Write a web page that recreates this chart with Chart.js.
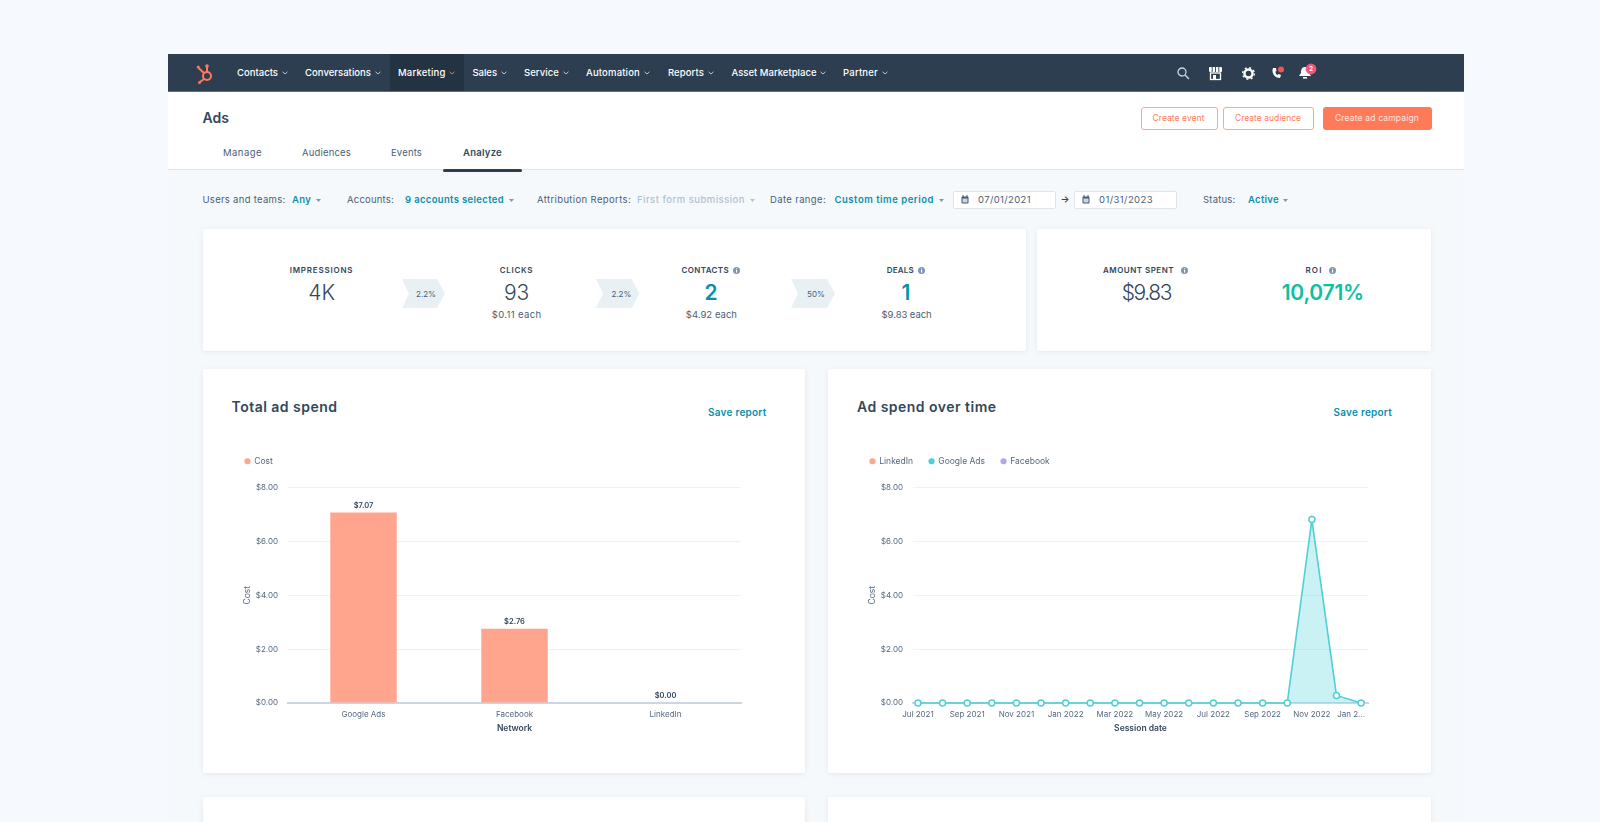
<!DOCTYPE html>
<html>
<head>
<meta charset="utf-8">
<title>Ads</title>
<script src="https://cdn.jsdelivr.net/npm/chart.js@4/dist/chart.umd.min.js"></script>
<style>
html, body { margin: 0; width: 1600px; height: 822px; overflow: hidden; background: #f6f9fe; font-family: Inter, "Noto Sans", sans-serif; color: #33475b; }
.box { position: absolute; box-sizing: border-box; }
.card { background: #fff; box-shadow: 0 1px 5px rgba(45,62,80,.10); border-radius: 2px; }
.txt { position: absolute; white-space: nowrap; line-height: 1; }
canvas { position: absolute; }
svg { position: absolute; overflow: visible; }
</style>
</head>
<body>
<div class="box" style="left:168px;top:54px;width:1296px;height:768px;background:#f6f9fc"></div>
<div class="box" style="left:168px;top:54px;width:1296px;height:38px;background:#2d3e50;border-bottom:1px solid #516f90"></div>
<div class="box" style="left:390px;top:54px;width:74px;height:37px;background:#243342"></div>
<div class="box" style="left:168px;top:92px;width:1296px;height:78px;background:#fff;border-bottom:1px solid #dfe3eb"></div>
<div class="box" style="left:443px;top:169px;width:79px;height:3px;background:#2d3e50;border-radius:2px"></div>

<div class="box card" style="left:202.5px;top:229px;width:823.5px;height:122px"></div>
<div class="box card" style="left:1037px;top:229px;width:394px;height:122px"></div>
<div class="box card" style="left:203px;top:369px;width:602px;height:404px"></div>
<div class="box card" style="left:828px;top:369px;width:603px;height:404px"></div>
<div class="box card" style="left:203px;top:797px;width:602px;height:40px"></div>
<div class="box card" style="left:828px;top:797px;width:603px;height:40px"></div>

<div class="box" style="left:953px;top:191px;width:103px;height:18px;background:#fff;border:1px solid #dfe3eb;border-radius:2px"></div>
<div class="box" style="left:1074px;top:191px;width:103px;height:18px;background:#fff;border:1px solid #dfe3eb;border-radius:2px"></div>
<div class="box" style="left:1140.5px;top:107px;width:77px;height:23px;background:#fff;border:1px solid #ffa48d;border-radius:3px"></div>
<div class="box" style="left:1222.5px;top:107px;width:91px;height:23px;background:#fff;border:1px solid #ffa48d;border-radius:3px"></div>
<div class="box" style="left:1322.5px;top:107px;width:109px;height:23px;background:#ff7a59;border-radius:3px"></div>

<canvas id="spendChart" width="528" height="307" style="left:229px;top:441px"></canvas>
<canvas id="timeChart" width="530" height="307" style="left:854px;top:441px"></canvas>

<script>
// chart values
const networks = ["Google Ads", "Facebook", "LinkedIn"];
const networkCost = [7.07, 2.76, 0.00];
const costTicks = [0, 2, 4, 6, 8];

const months = ["Jul 2021", "Aug 2021", "Sep 2021", "Oct 2021", "Nov 2021", "Dec 2021", "Jan 2022", "Feb 2022", "Mar 2022", "Apr 2022",
    "May 2022", "Jun 2022", "Jul 2022", "Aug 2022", "Sep 2022", "Oct 2022", "Nov 2022", "Dec 2022", "Jan 2023"];
const monthTicks = ["Jul 2021", "Sep 2021", "Nov 2021", "Jan 2022", "Mar 2022", "May 2022", "Jul 2022", "Sep 2022", "Nov 2022", "Jan 2..."];
const linkedInCost = [0, 0, 0, 0, 0, 0, 0, 0, 0, 0, 0, 0, 0, 0, 0, 0, 0, 0, 0];
const googleCost = [0, 0, 0, 0, 0, 0, 0, 0, 0, 0, 0, 0, 0, 0, 0, 0, 6.81, 0.28, 0];
const facebookCost = [0, 0, 0, 0, 0, 0, 0, 0, 0, 0, 0, 0, 0, 0, 0, 0, 0, 0, 0];

const SALMON = "#ffa58d";
const TEAL = "#4fd0d6";
const PURPLE = "#b3a6e6";
const LINK = "#0b8fab";
const INK = "#33475b";
const MUTED = "#4a5f75";
const AXIS = "#55697d";

// page text, x1 given means stretch the text to end there
function put(text, x0, x1, y, size, color, weight) {
    const el = document.createElement("div");
    el.className = "txt";
    el.textContent = text;
    el.style.fontSize = size + "px";
    el.style.color = color || INK;
    el.style.fontWeight = weight || 400;
    document.body.appendChild(el);
    const w = el.getBoundingClientRect().width;
    el.style.top = (y - el.getBoundingClientRect().height / 2) + "px";
    if (x1 === null) {
        el.style.left = (x0 - w / 2) + "px"; // x0 is the centre
    } else {
        el.style.left = x0 + "px";
        el.style.letterSpacing = ((x1 - x0 - w) / text.length) + "px";
    }
}

function icon(x, y, w, h, inner) {
    const ns = "http://www.w3.org/2000/svg";
    const s = document.createElementNS(ns, "svg");
    s.setAttribute("width", w);
    s.setAttribute("height", h);
    s.setAttribute("viewBox", "0 0 " + w + " " + h);
    s.style.left = x + "px";
    s.style.top = y + "px";
    s.innerHTML = inner;
    document.body.appendChild(s);
}

function chevron(cx, y, color) {
    icon(cx - 3, y - 2, 6, 4, '<polyline points="0.5,0.8 3,3 5.5,0.8" fill="none" stroke="' + color + '" stroke-width="0.9"/>');
}
function caret(cx, y, color) {
    icon(cx - 2.5, y - 1.5, 5, 3, '<polygon points="0,0 5,0 2.5,3" fill="' + color + '"/>');
}
function info(cx, y) {
    icon(cx - 3.5, y - 3.5, 7, 7, '<circle cx="3.5" cy="3.5" r="3.5" fill="#7c98b6"/><rect x="3" y="3" width="1.1" height="2.6" fill="#fff"/><rect x="3" y="1.4" width="1.1" height="1" fill="#fff"/>');
}
function arrowTag(x0, x1, y0, y1) {
    const w = x1 - x0, h = y1 - y0;
    icon(x0, y0, w, h, '<polygon points="0,0 ' + (w - 8) + ',0 ' + w + ',' + (h / 2) + ' ' + (w - 8) + ',' + h + ' 0,' + h + ' 7,' + (h / 2) + '" fill="#e9f0f4"/>');
}
function calendar(cx, y) {
    icon(cx - 4, y - 4.5, 8, 9, '<rect x="0.5" y="1.5" width="7" height="7" rx="1" fill="#425b76"/><rect x="1.5" y="3.5" width="5" height="4" fill="#cbd6e2"/><rect x="1.5" y="0" width="1" height="2" fill="#425b76"/><rect x="5.5" y="0" width="1" height="2" fill="#425b76"/>');
}

// nav bar
const navItems = [["Contacts", 237, 278, 285], ["Conversations", 305, 371, 378], ["Marketing", 398, 445.5, 452], ["Sales", 472.5, 497, 503.5],
    ["Service", 524, 559, 566], ["Automation", 586, 640, 646.5], ["Reports", 668, 704, 711], ["Asset Marketplace", 731.5, 816.5, 823], ["Partner", 843, 878, 885]];
navItems.forEach(function (n) {
    put(n[0], n[1], n[2], 73, 9.5, "#fff", 500);
    chevron(n[3], 73, n[0] === "Marketing" ? "#ff7a59" : "#cbd6e2");
});
icon(196, 62, 20, 22, '<g fill="none" stroke="#ff7a59" stroke-width="2"><circle cx="11" cy="14" r="4"/><line x1="11" y1="10" x2="11" y2="5"/><line x1="8" y1="11" x2="2.5" y2="6"/><line x1="8" y1="17" x2="4" y2="20"/></g><circle cx="11" cy="4" r="1.8" fill="#ff7a59"/><circle cx="2.2" cy="5" r="1.5" fill="#ff7a59"/><circle cx="3.5" cy="20.5" r="1.5" fill="#ff7a59"/>');
icon(1177, 67, 13, 13, '<circle cx="5" cy="5" r="4" fill="none" stroke="#cbd6e2" stroke-width="1.3"/><line x1="8" y1="8" x2="12" y2="12" stroke="#cbd6e2" stroke-width="1.5"/>');
icon(1209, 67, 13, 13, '<rect x="0" y="0" width="13" height="5" rx="1" fill="#fff"/><g stroke="#2d3e50" stroke-width="0.9"><line x1="3.2" y1="0" x2="3.2" y2="5"/><line x1="6.5" y1="0" x2="6.5" y2="5"/><line x1="9.8" y1="0" x2="9.8" y2="5"/></g><rect x="1.5" y="6" width="10" height="6.5" fill="none" stroke="#fff" stroke-width="1.3"/><rect x="4" y="8" width="3" height="4.5" fill="#fff"/>');
icon(1241.5, 67, 13, 13, '<circle cx="6.5" cy="6.5" r="4" fill="none" stroke="#fff" stroke-width="2.4"/><circle cx="6.5" cy="6.5" r="5.8" fill="none" stroke="#fff" stroke-width="1.4" stroke-dasharray="2 2.55"/>');
icon(1271, 66, 14, 14, '<path d="M2 2 C0 7 4 12 9 12 L10 9 L7.5 8 L6.5 9 C5 8.5 4.5 7 4.5 5.5 L5.5 5 L5 2 Z" fill="#fff"/><circle cx="10" cy="3.5" r="3" fill="#f2545b"/>');
icon(1298, 63, 20, 18, '<path d="M7 4 C3.5 4 3 7 3 10 L1 13 L13 13 L11 10 C11 7 10.5 4 7 4 Z" fill="#fff"/><rect x="5" y="14" width="4" height="1.6" fill="#fff"/><circle cx="13" cy="6" r="5.4" fill="#f2547d"/>');
put("2", 1311, null, 69, 6.5, "#fff", 600);

// header
put("Ads", 202.5, 229, 118, 14, INK, 600);
put("Manage", 223, 262, 153, 9.5, MUTED);
put("Audiences", 302, 351, 153, 9.5, MUTED);
put("Events", 391, 422, 153, 9.5, MUTED);
put("Analyze", 463, 502, 153, 9.5, INK, 600);
put("Create event", 1152.5, 1204.5, 118.5, 8.5, "#ff7a59");
put("Create audience", 1235, 1301, 118.5, 8.5, "#ff7a59");
put("Create ad campaign", 1335, 1419, 118.5, 8.5, "#ffe4dc");

// filters
put("Users and teams:", 202.5, 285.5, 200, 9.5, MUTED);
put("Any", 292, 311, 200, 9.5, LINK, 600);
caret(318, 200, "#7c98b6");
put("Accounts:", 347, 394, 200, 9.5, MUTED);
put("9 accounts selected", 405, 504, 200, 9.5, LINK, 600);
caret(511, 200, "#7c98b6");
put("Attribution Reports:", 537, 631, 200, 9.5, MUTED);
put("First form submission", 637, 745, 200, 9.5, "#b0c1d4", 500);
caret(752, 200, "#b0c1d4");
put("Date range:", 770, 826, 200, 9.5, MUTED);
put("Custom time period", 834.5, 934, 200, 9.5, LINK, 600);
caret(941, 200, "#7c98b6");
calendar(965, 199.5);
put("07/01/2021", 978, 1031, 200, 9.5, MUTED);
put("\u2192", 1065, null, 200, 9.5, INK, 600);
calendar(1086, 199.5);
put("01/31/2023", 1099, 1153, 200, 9.5, MUTED);
put("Status:", 1203, 1235.5, 200, 9.5, MUTED);
put("Active", 1248, 1279, 200, 9.5, LINK, 600);
caret(1285, 200, "#7c98b6");

// stat cards
put("IMPRESSIONS", 289.7, 353.3, 270, 8, INK, 600);
put("4K", 321.7, null, 292.5, 21, INK, 300);
arrowTag(401.5, 444.5, 279, 308);
put("2.2%", 426, null, 294, 8, MUTED);
put("CLICKS", 499.8, 533, 270, 8, INK, 600);
put("93", 516.6, null, 292.5, 21, INK, 300);
put("$0.11 each", 491.8, 541.4, 314.7, 9.5, MUTED);
arrowTag(596, 639.5, 279, 308);
put("2.2%", 621.4, null, 294, 8, MUTED);
put("CONTACTS", 681.6, 729, 270, 8, INK, 600);
info(736, 270.5);
put("2", 711, null, 292.5, 21, LINK, 600);
put("$4.92 each", 685.8, 737, 314.7, 9.5, MUTED);
arrowTag(791, 835, 279, 308);
put("50%", 816, null, 294, 8, MUTED);
put("DEALS", 886.7, 914, 270, 8, INK, 600);
info(921.5, 270.5);
put("1", 906, null, 292.5, 21, LINK, 600);
put("$9.83 each", 881.6, 931.6, 314.7, 9.5, MUTED);
put("AMOUNT SPENT", 1103, 1174, 270, 8, INK, 600);
info(1184, 270.5);
put("$9.83", 1121.7, 1171, 292.5, 21, INK, 300);
put("ROI", 1305.5, 1322.5, 270, 8, INK, 600);
info(1332.7, 270.5);
put("10,071%", 1281.7, 1364, 292.5, 21, "#0fbfa0", 600);

// chart card headers
put("Total ad spend", 231.5, 337.5, 407, 14, INK, 600);
put("Save report", 708, 766.5, 412, 10, LINK, 600);
put("Ad spend over time", 857, 996.5, 407, 14, INK, 600);
put("Save report", 1333.5, 1392, 412, 10, LINK, 600);

Chart.defaults.font.family = "Inter";
Chart.defaults.font.size = 8;
Chart.defaults.color = AXIS;

const money = function (v) { return "$" + Number(v).toFixed(2); };

// keeps the plot at the same height under the legend
const legendGap = {
    id: "legendGap",
    beforeUpdate: function (chart) {
        const lg = chart.legend;
        if (lg.patched) return;
        const fit = lg.fit;
        lg.fit = function () { fit.call(this); this.height = 46.5; };
        lg.patched = true;
    }
};

// value labels above the bars
const barLabels = {
    id: "barLabels",
    afterDatasetsDraw: function (chart) {
        const ctx = chart.ctx;
        ctx.save();
        ctx.font = "600 7.5px Inter";
        ctx.fillStyle = INK;
        ctx.textAlign = "center";
        ctx.textBaseline = "bottom";
        chart.getDatasetMeta(0).data.forEach(function (bar, i) {
            ctx.fillText(money(networkCost[i]), bar.x, bar.y - 3.5);
        });
        ctx.restore();
    }
};

// last date label sits inside the plot edge like the original
const lastLabelShift = {
    id: "lastLabelShift",
    beforeDraw: function (chart) {
        const items = chart.scales.x.getLabelItems();
        const last = items[items.length - 1];
        last.options.translation[0] -= 10;
    }
};

function legendOptions() {
    return {
        position: "top",
        align: "start",
        labels: { usePointStyle: true, pointStyle: "circle", boxWidth: 5, boxHeight: 4.4, padding: 16, color: AXIS, font: { size: 8.5 } }
    };
}

function yScale() {
    return {
        min: 0,
        max: 8,
        afterBuildTicks: function (scale) { scale.ticks = costTicks.map(function (v) { return { value: v }; }); },
        afterFit: function (scale) { scale.width = 59; },
        border: { display: false },
        grid: { color: "#eef1f6", drawTicks: false },
        ticks: { padding: 10, callback: money, color: AXIS },
        title: { display: true, text: "Cost", color: AXIS, font: { size: 8.5 }, padding: { top: 13, bottom: 0 } }
    };
}

function xAxisCommon(title) {
    return {
        afterFit: function (scale) { scale.height = 45; },
        border: { color: "#cbd6e2", width: 2 },
        grid: { display: false },
        title: { display: true, text: title, color: INK, font: { size: 8.5, weight: 600 }, padding: { top: 0, bottom: 14 } }
    };
}

new Chart(document.getElementById("spendChart"), {
    type: "bar",
    data: {
        labels: networks,
        datasets: [{ label: "Cost", data: networkCost, backgroundColor: SALMON, barPercentage: 0.44, categoryPercentage: 1 }]
    },
    options: {
        responsive: false,
        animation: false,
        layout: { padding: { right: 16 } },
        plugins: { legend: legendOptions(), tooltip: { enabled: false } },
        scales: {
            x: Object.assign(xAxisCommon("Network"), { ticks: { padding: -1.5, color: AXIS } }),
            y: yScale()
        }
    },
    plugins: [legendGap, barLabels]
});

const points = function (values) {
    return values.map(function (v, i) { return { x: i, y: v }; });
};
const legendColors = [SALMON, TEAL, PURPLE];

new Chart(document.getElementById("timeChart"), {
    type: "line",
    data: {
        datasets: [
            { label: "LinkedIn", data: points(linkedInCost), borderColor: TEAL, borderWidth: 0, pointRadius: 0 },
            {
                label: "Google Ads", data: points(googleCost), months: months, borderColor: TEAL, borderWidth: 1.6, tension: 0, clip: false,
                fill: "origin", backgroundColor: "rgba(79,208,214,0.30)",
                pointRadius: 3, pointBorderWidth: 1.5, pointBorderColor: TEAL, pointBackgroundColor: "#fff"
            },
            { label: "Facebook", data: points(facebookCost), borderColor: TEAL, borderWidth: 0, pointRadius: 0 }
        ]
    },
    options: {
        responsive: false,
        animation: false,
        layout: { padding: { right: 16 } },
        plugins: {
            legend: Object.assign(legendOptions(), {
                labels: Object.assign(legendOptions().labels, {
                    generateLabels: function (chart) {
                        return chart.data.datasets.map(function (d, i) {
                            return { text: d.label, fillStyle: legendColors[i], strokeStyle: legendColors[i], lineWidth: 0, pointStyle: "circle", fontColor: AXIS, datasetIndex: i };
                        });
                    }
                })
            }),
            tooltip: { enabled: false }
        },
        scales: {
            x: Object.assign(xAxisCommon("Session date"), {
                type: "linear",
                min: -0.2,
                max: 18.28,
                afterBuildTicks: function (scale) {
                    scale.ticks = monthTicks.map(function (m, i) { return { value: i * 2 }; });
                },
                ticks: {
                    padding: -1.5,
                    color: AXIS,
                    autoSkip: false,
                    maxRotation: 0,
                    callback: function (v) { return monthTicks[v / 2]; }
                }
            }),
            y: yScale()
        }
    },
    plugins: [legendGap, lastLabelShift]
});
</script>
</body>
</html>
